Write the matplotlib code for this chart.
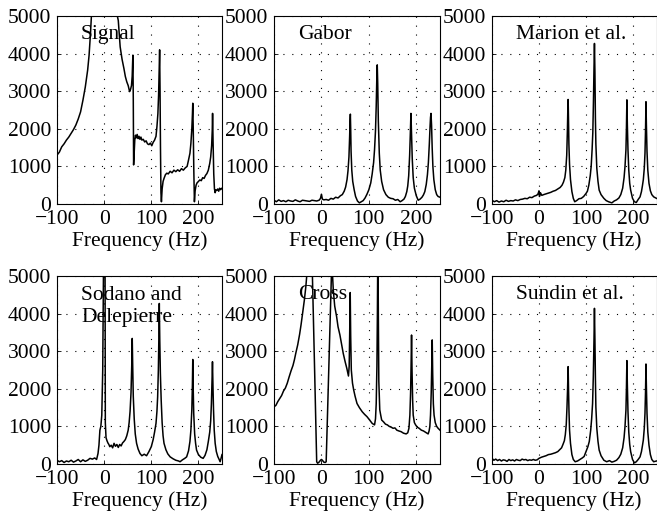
import matplotlib
matplotlib.use('Agg')
import matplotlib.pyplot as plt

# spectra (frequency in Hz, amplitude)
signal_f = [-100, -95, -90, -85, -80, -75, -70, -65, -60, -55, -50, -45, -40, -35, -32, -29, -27, -24, -15, 0,
            15, 24, 28, 30, 34, 38, 42, 45, 48, 51, 54, 56, 58, 59.5, 60.5, 61, 61.8, 62.5, 63.5, 65, 66.5, 68,
            70, 72, 74, 76, 78, 80, 83, 86, 89, 92, 95, 98, 101, 104, 107, 110, 112, 114, 115.5, 116.8, 117.7,
            118.6, 119.5, 120.5, 121.5, 123, 125, 127, 130, 133, 136, 140, 144, 148, 152, 156, 160, 164, 168,
            172, 176, 179, 182, 184, 186, 187.3, 188, 189, 190.2, 191.5, 193, 195, 197, 200, 203, 206, 209,
            212, 215, 218, 221, 224, 226, 228, 229.3, 230, 231, 232.5, 234, 235.5, 237, 239, 241, 243, 245,
            247, 250]
signal_a = [1300, 1380, 1520, 1600, 1700, 1780, 1880, 1980, 2100, 2260, 2450, 2760, 3110, 3560, 3950, 4530,
            5000, 5800, 8000, 15000, 8000, 5600, 5000, 4880, 4180, 3850, 3600, 3390, 3250, 3150, 2990, 3050,
            3150, 3400, 3800, 3960, 2800, 1040, 1300, 1700, 1830, 1760, 1850, 1740, 1800, 1720, 1780, 1700,
            1720, 1650, 1680, 1600, 1580, 1620, 1550, 1640, 1700, 1800, 2060, 2400, 2900, 3600, 4100, 3000,
            1500, 300, 60, 400, 600, 680, 780, 820, 800, 870, 830, 900, 860, 910, 870, 940, 900, 960, 1000,
            1170, 1350, 1610, 2000, 2400, 2680, 2000, 900, 60, 350, 500, 560, 600, 640, 620, 700, 680, 760,
            810, 900, 1080, 1250, 1550, 1950, 2410, 1700, 800, 400, 300, 380, 360, 400, 340, 420, 380, 420]

gabor_f = [-100, -95, -90, -85, -80, -75, -70, -65, -60, -55, -50, -45, -40, -35, -30, -25, -20, -15, -10, -5,
           -2, 0, 2, 5, 10, 15, 20, 25, 30, 35, 40, 44, 48, 51, 54, 56, 58, 59.5, 60.3, 61, 61.7, 62.5, 64, 66,
           69, 72, 76, 80, 84, 88, 92, 96, 100, 104, 107, 110, 112, 114, 115.5, 116.7, 117.7, 118.7, 120, 122,
           124, 127, 131, 136, 141, 146, 151, 156, 161, 166, 170, 174, 177, 180, 182, 184, 186, 187.5, 188.7,
           189.9, 191.5, 193.5, 196, 200, 204, 208, 212, 215, 218, 221, 223.5, 225.5, 227.5, 229, 230, 231,
           232.2, 233.5, 235, 237, 240, 243, 246, 250]
gabor_a = [100, 60, 110, 70, 90, 60, 100, 80, 70, 110, 80, 60, 100, 90, 80, 70, 100, 90, 80, 100,
           150, 260, 130, 110, 120, 100, 150, 130, 180, 160, 220, 250, 340, 450, 650, 880, 1250, 1800, 2200,
           2390, 2000, 1400, 900, 600, 380, 200, 80, 30, 60, 90, 160, 260, 380, 560, 800, 1100, 1450, 1950,
           2600, 3300, 3700, 3200, 2200, 1350, 900, 600, 380, 250, 180, 150, 140, 100, 120, 60, 90, 130, 200,
           330, 480, 750, 1300, 1900, 2410, 1900, 1200, 700, 420, 220, 100, 130, 180, 240, 330, 520, 780,
           1100, 1600, 2050, 2300, 2410, 2100, 1500, 1000, 650, 380, 250, 200, 180]

marion_f = [-100, -95, -90, -85, -80, -75, -70, -65, -60, -55, -50, -45, -40, -35, -30, -25, -20, -15, -10, -5,
            -2, 0, 1, 3, 6, 10, 15, 20, 25, 30, 35, 40, 45, 49, 52, 55, 57, 59, 60.5, 61.3, 62, 62.7, 63.6, 65,
            67, 70, 73, 76, 80, 85, 90, 95, 100, 103, 106, 109, 111, 113, 114.5, 115.8, 117, 118, 119, 120,
            121, 123, 125.5, 128, 132, 138, 143, 148, 155, 160, 165, 170, 174, 178, 181, 183, 185, 186, 187,
            188, 189.3, 191, 193, 195, 199, 203, 207, 211, 215, 218, 220, 222, 224, 225.5, 226.7, 227.6, 228.5,
            229.8, 231.5, 234, 237, 240, 244, 250]
marion_a = [100, 60, 90, 50, 80, 60, 100, 70, 90, 80, 110, 90, 120, 130, 150, 140, 180, 170, 210, 230,
            270, 350, 200, 300, 230, 250, 270, 290, 310, 340, 360, 400, 440, 500, 580, 700, 900, 1300, 2000,
            2500, 2780, 2300, 1600, 1050, 650, 330, 150, 60, 90, 140, 150, 200, 280, 340, 500, 750, 1000, 1450,
            1900, 2700, 3600, 4270, 3500, 2300, 1600, 950, 600, 370, 250, 150, 90, 60, 30, 80, 110, 160, 250,
            420, 700, 1000, 1450, 2000, 2770, 2100, 1450, 900, 550, 370, 150, 60, 40, 120, 190, 330, 480, 650,
            950, 1350, 2000, 2720, 2100, 1400, 900, 550, 350, 250, 190, 150]

sodano_f = [-100, -95, -90, -85, -80, -75, -70, -65, -60, -55, -50, -45, -40, -35, -30, -25, -20, -16, -13, -11,
            -9, -7, -5, -3, -1.5, 0.3, 2, 2.5, 4, 6, 8, 10, 12, 15, 18, 21, 24, 27, 30, 33, 36, 39, 42, 45, 48,
            51, 53, 55, 57, 58.5, 59.6, 60.6, 61.8, 63.8, 66, 68.8, 72, 76, 80, 85, 90, 95, 100, 104, 107, 110,
            112, 113.5, 115, 116, 117, 118, 119.3, 121, 123, 125, 127, 131, 135, 140, 146, 152, 158, 161, 166,
            171, 175, 179, 182, 184, 186, 187.2, 188, 188.8, 190, 192, 194, 196, 200, 205, 210, 214, 218, 221,
            224, 226, 227.5, 228.8, 229.8, 230.8, 232, 233.5, 235.5, 238, 241, 244, 246, 248, 250]
sodano_a = [100, 60, 90, 40, 80, 60, 100, 50, 80, 120, 60, 110, 70, 100, 150, 130, 160, 120, 280, 500,
            900, 1000, 1300, 2500, 5000, 20000, 5000, 1100, 700, 620, 560, 520, 460, 500, 430, 550, 470, 520,
            440, 520, 480, 560, 600, 650, 750, 900, 1100, 1400, 1900, 2600, 3340, 2600, 1800, 1200, 800, 550,
            400, 280, 220, 260, 220, 330, 460, 650, 850, 1080, 1400, 1790, 2500, 3300, 4270, 3300, 2400, 1700,
            1100, 750, 550, 380, 270, 190, 140, 100, 80, 60, 110, 150, 190, 350, 600, 900, 1450, 2100, 2780,
            2100, 1350, 800, 550, 370, 250, 180, 150, 230, 380, 600, 850, 1150, 1600, 2200, 2720, 2100, 1450,
            900, 550, 330, 200, 120, 60, 150, 250]

cross_f = [-100, -96, -92, -88, -84, -80, -76, -72, -68, -64, -60, -57, -54, -50, -46, -43, -40, -36, -33, -31,
           -27, -23, -19, -14, -10, -8, -5, -2, 0, 2, 5, 8, 10, 15, 21, 22, 23.5, 25, 28, 32, 35, 39, 42, 46,
           50, 53.6, 57, 58.5, 59.5, 60.7, 61.7, 63, 65.5, 68, 71, 75, 80, 86, 91, 96, 101, 107, 112, 114,
           115.5, 117, 118, 119, 120, 121, 123, 125, 127, 131, 135, 139, 143, 147, 151, 155, 159, 163, 168,
           173, 178.6, 182, 184.5, 186.5, 188, 189, 190, 191, 192.3, 193.5, 196, 198.6, 202, 206, 210.7, 215,
           220, 225, 227, 228.6, 230, 231.5, 232.6, 233.6, 234.6, 236, 237.5, 240, 243, 246, 250]
cross_a = [1520, 1560, 1660, 1740, 1820, 1940, 2020, 2150, 2320, 2480, 2620, 2770, 2950, 3170, 3450, 3700,
           3980, 4360, 4700, 5000, 7000, 7000, 5000, 2300, 60, 20, 50, 100, 120, 100, 50, 40, 60, 2300, 5000,
           6000, 5000, 4630, 4200, 3920, 3650, 3430, 3220, 2940, 2720, 2540, 2340, 2600, 3400, 4560, 3400, 2500,
           2150, 1970, 1800, 1610, 1500, 1390, 1320, 1260, 1180, 1080, 1040, 1200, 1600, 2600, 4000, 6000, 4000,
           2200, 1440, 1300, 1170, 1120, 1060, 1040, 1000, 980, 950, 960, 900, 880, 860, 820, 800, 830, 950,
           1300, 1900, 2600, 3430, 2500, 1700, 1300, 1100, 1040, 980, 950, 900, 880, 840, 800, 880, 1000, 1300,
           1900, 2600, 3300, 2400, 1600, 1300, 1100, 1000, 950, 900]

sundin_f = [-100, -96, -92, -88, -84, -80, -76, -72, -68, -64, -60, -56, -52, -48, -44, -40, -36, -32, -28, -24,
            -20, -16, -12, -8, -4, 0, 5, 10, 15, 20, 25, 30, 35, 40, 44, 48, 51, 54, 56, 58, 59.5, 60.8, 62,
            62.8, 63.8, 65, 67, 70, 73, 77, 82, 87, 92, 96, 100, 104, 107, 110, 112, 114, 115.5, 117, 118, 119,
            120, 121, 123, 125.5, 128, 132, 138, 144, 150, 155, 160, 165, 170, 174, 178, 181, 183, 185, 186,
            187, 188, 189.3, 191, 193, 195, 199, 203, 207, 211, 215, 218, 220, 222, 224, 225.5, 226.7, 227.6,
            228.5, 229.8, 231.5, 234, 237, 240, 244, 250]
sundin_a = [150, 100, 130, 90, 120, 80, 110, 100, 70, 120, 90, 110, 80, 120, 100, 90, 130, 110, 120, 90,
            110, 100, 120, 100, 110, 150, 180, 200, 220, 250, 260, 280, 300, 330, 380, 430, 520, 620, 780, 1050,
            1500, 2000, 2590, 2000, 1400, 900, 550, 250, 120, 60, 80, 120, 160, 200, 330, 460, 600, 900, 1200,
            1610, 2300, 3300, 4140, 3300, 2300, 1520, 950, 600, 370, 220, 100, 60, 90, 50, 70, 100, 170, 260,
            430, 700, 1000, 1440, 2000, 2750, 2100, 1400, 850, 520, 330, 120, 30, 60, 120, 190, 330, 480, 640,
            950, 1350, 1950, 2660, 2050, 1350, 850, 500, 250, 120, 60, 80]

labels = ['Signal', 'Gabor', 'Marion et al.', 'Sodano and\nDelepierre', 'Cross', 'Sundin et al.']
x_ticks = [-100, 0, 100, 200]
y_ticks = [0, 1000, 2000, 3000, 4000, 5000]

plt.rcParams['font.family'] = ['Liberation Serif', 'DejaVu Serif']
plt.rcParams['font.size'] = 15.5

fig = plt.figure(figsize=(6.57, 5.17), dpi=100)

lefts = [57 / 657, 274 / 657, 492 / 657]
widths = [165 / 657, 166 / 657, 164.5 / 657]
bottoms = [1 - 204 / 517, 1 - 464 / 517]
height = 188 / 517

series = [(signal_f, signal_a), (gabor_f, gabor_a), (marion_f, marion_a),
          (sodano_f, sodano_a), (cross_f, cross_a), (sundin_f, sundin_a)]

for i, (f, a) in enumerate(series):
    row, col = divmod(i, 3)
    ax = fig.add_axes([lefts[col], bottoms[row], widths[col], height])
    ax.plot(f, a, color='black', lw=1.1)
    ax.set_xlim(-100, 250)
    ax.set_ylim(0, 5000)
    ax.set_xticks(x_ticks)
    ax.set_yticks(y_ticks)
    ax.grid(True, color='black', linestyle=(0, (1, 7)), lw=0.8)
    ax.tick_params(direction='in', length=3, width=0.6, pad=4)
    for s in ax.spines.values():
        s.set_linewidth(0.8)
    ax.set_xlabel('Frequency (Hz)', labelpad=2)
    if '\n' in labels[i]:
        ax.text(-49, 4190, labels[i], ha='left', va='center', linespacing=1.2)
    else:
        ax.text(-49, 4500, labels[i], ha='left', va='center')

fig.savefig('out.png', dpi=100)
